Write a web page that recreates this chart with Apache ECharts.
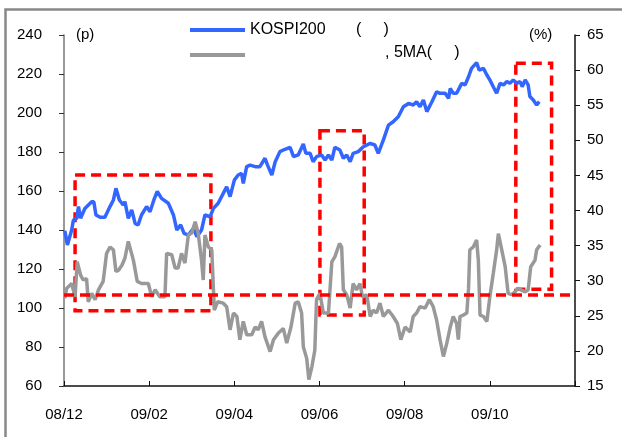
<!doctype html>
<html>
<head>
<meta charset="utf-8">
<script src="https://cdn.jsdelivr.net/npm/echarts@6/dist/echarts.min.js"></script>
<style>
  html, body { margin: 0; padding: 0; background: #fff; }
  #chart { width: 622px; height: 437px; }
</style>
</head>
<body>
<div id="chart"></div>
<script>
// x positions are months counted from 08/12
var xLabels = ['08/12', '09/02', '09/04', '09/06', '09/08', '09/10', '']

var kospiMonths = [0.02,0.08,0.18,0.22,0.30,0.34,0.39,0.49,0.65,0.70,0.75,0.85,0.96,1.08,1.16,1.22,1.30,1.39,1.43,1.51,
	1.59,1.67,1.74,1.82,1.94,2.02,2.11,2.19,2.29,2.45,2.57,2.65,2.74,2.82,2.92,2.96,3.04,3.12,3.23,3.31,
	3.43,3.51,3.62,3.74,3.82,3.90,4.00,4.09,4.17,4.21,4.29,4.37,4.49,4.60,4.72,4.78,4.88,4.96,5.07,5.19,
	5.31,5.39,5.50,5.62,5.68,5.78,5.85,5.93,6.05,6.13,6.21,6.29,6.36,6.48,6.56,6.64,6.72,6.79,6.91,7.03,
	7.19,7.30,7.38,7.50,7.62,7.73,7.85,7.97,8.09,8.20,8.28,8.36,8.44,8.52,8.64,8.75,8.83,8.95,9.03,9.07,
	9.14,9.22,9.34,9.42,9.50,9.57,9.69,9.75,9.85,9.93,10.00,10.08,10.16,10.24,10.32,10.40,10.47,10.55,10.63,10.71,
	10.76,10.83,10.90,10.94,11.02,11.10,11.16]
var kospi = [139.6,132.3,140,145,146,152,146,151,154.5,154.5,147.7,146.5,146.5,152,155.4,161.4,155.4,152.8,154.5,146,
	150.3,143.4,142.6,147.7,152,149.4,155.4,159.8,156.2,153.7,147.7,140,142.6,138.3,137.4,136.6,140.9,136.6,140,147.7,
	146.8,151.1,153.7,158.8,162.2,157.1,165.6,168.2,169,163.9,172.5,173.3,172.5,172.5,176.8,173.3,168.2,175,180.2,181.4,
	182.4,177.6,178.5,184.1,179.3,179.3,175,177.6,178.5,175.9,178.5,175.9,182.4,181,176.8,178.5,175,179.3,180.2,182.7,
	184.4,183.6,179.3,186.2,193.8,195.5,198.1,203.2,204.9,204.1,205.8,203.2,206.7,200.7,205.8,210.9,210.1,210.1,207.5,212.6,
	210.1,210.1,215.2,214.4,218.6,222.9,225.8,222,222.9,219.5,217,213.5,210.1,215.2,214.4,216.1,215.2,217,215.2,216.1,
	213.5,217,214.4,208.4,206.7,204.1,205.8]

var ratioMonths = [0.02,0.06,0.18,0.26,0.31,0.39,0.45,0.53,0.57,0.65,0.73,0.81,0.92,1.00,1.08,1.16,1.22,1.28,1.36,1.43,
	1.51,1.63,1.72,1.82,1.98,2.06,2.14,2.25,2.37,2.41,2.53,2.61,2.68,2.76,2.84,2.92,3.00,3.08,3.15,3.23,
	3.27,3.31,3.39,3.47,3.53,3.61,3.74,3.82,3.90,3.98,4.06,4.13,4.21,4.29,4.41,4.49,4.56,4.64,4.72,4.84,
	4.92,5.03,5.15,5.23,5.33,5.43,5.50,5.58,5.62,5.70,5.75,5.82,5.89,5.93,6.01,6.09,6.21,6.29,6.36,6.47,
	6.52,6.56,6.64,6.72,6.79,6.87,6.95,7.01,7.11,7.19,7.26,7.34,7.42,7.50,7.62,7.73,7.83,7.91,8.01,8.13,
	8.20,8.28,8.36,8.48,8.58,8.67,8.75,8.83,8.91,8.99,9.07,9.14,9.22,9.26,9.30,9.38,9.46,9.50,9.53,9.61,
	9.69,9.73,9.77,9.85,9.93,10.00,10.08,10.16,10.20,10.28,10.36,10.43,10.51,10.59,10.66,10.73,10.83,10.90,10.96,11.06,
	11.10,11.18]
var ratio = [27.5,28.9,29.6,27.7,32.7,30.8,30.1,30.3,27,28.2,27.3,28.7,29.9,33.9,34.8,34.4,31.3,31.5,32.2,33.2,
	35.6,32.9,29.9,29.6,29.6,27.7,28.7,27.7,27.7,33.9,33.7,31.8,31.8,33.9,32.5,36.5,36.8,38.4,36.8,32.9,
	30.1,36.5,34.8,34.4,25.8,27,26.8,26.3,23,25.4,24.9,21.6,24.2,22.3,22.3,23.4,23,24.2,22,19.9,
	21.6,22.5,23.2,21.1,23.4,26.8,27,25.4,20.6,18.9,15.9,17.7,20.1,27.3,28.2,25.4,25.4,32.7,33.4,35.3,
	34.8,28.7,28,26.1,29.6,28.7,29.6,27.7,28,24.9,25.8,25.4,26.8,24.9,25.8,24.9,23.9,21.6,23.4,22.7,
	24.9,25.4,26.3,26.1,27.3,26.3,24.4,21.6,19.2,21.1,23.4,24.9,23.9,21.6,24.9,25.1,25.4,28.9,34.4,34.8,
	35.8,32.9,25.1,24.9,24.2,27.7,31,34.4,36.7,34.4,32,28.2,28,28.4,28.9,28.7,28.4,28.7,32,32.9,
	34.4,35.1]

// dashed boxes: [fromMonth, toMonth, low, high] on the left (p) scale
var boxes = [
	[0.26, 3.45, 98.6, 168.2],
	[6.01, 7.05, 96.4, 190.9],
	[10.61, 11.45, 109.6, 225.5]
]
var redLevel = 28   // (%) on right scale

var font = 'Liberation Sans, Arial, sans-serif'

function pairs(xs, ys) {
	return xs.map(function (x, i) { return [x, ys[i]] })
}

var chart = echarts.init(document.getElementById('chart'))

var option = {
	animation: false,
	textStyle: { fontFamily: font },
	grid: { left: 64, right: 47, top: 35, bottom: 51 },
	legend: [
		{
			left: 185, top: 17, data: ['KOSPI200'],
			icon: 'rect', itemWidth: 55, itemHeight: 4,
			textStyle: { fontFamily: font, fontSize: 16, color: '#000' },
			selectedMode: false
		},
		{
			left: 185, top: 48, data: ['5MA'],
			icon: 'rect', itemWidth: 55, itemHeight: 4,
			formatter: function () { return '' },
			textStyle: { fontFamily: font, fontSize: 16, color: '#000' },
			selectedMode: false
		}
	],
	graphic: [
		{ type: 'rect', left: 3, top: 7, shape: { width: 700, height: 500 },
			style: { fill: 'none', stroke: '#888', lineWidth: 2.5 }, silent: true },
		{ type: 'text', left: 76, top: 27, style: { text: '(p)', font: '15px ' + font, fill: '#000' } },
		{ type: 'text', left: 529, top: 27, style: { text: '(%)', font: '15px ' + font, fill: '#000' } },
		{ type: 'text', left: 356, top: 22, style: { text: '(     )', font: '16px ' + font, fill: '#000' } },
		{ type: 'text', left: 385, top: 45, style: { text: ', 5MA(     )', font: '16px ' + font, fill: '#000' } }
	],
	xAxis: {
		type: 'value', min: 0, max: 12, interval: 2,
		axisLine: { lineStyle: { color: '#111', width: 1.5 } },
		axisTick: { inside: true, length: 5, lineStyle: { color: '#111' } },
		splitLine: { show: false },
		axisLabel: {
			margin: 21, fontSize: 15, color: '#000', fontFamily: font,
			formatter: function (v) { return xLabels[Math.round(v / 2)] }
		}
	},
	yAxis: [
		{
			type: 'value', min: 60, max: 240, interval: 20, position: 'left',
			axisLine: { show: true, lineStyle: { color: '#777', width: 1.5 } },
			axisTick: { show: true, length: 5, lineStyle: { color: '#333' } },
			splitLine: { show: false },
			axisLabel: { margin: 22, fontSize: 15, color: '#000', fontFamily: font }
		},
		{
			type: 'value', min: 15, max: 65, interval: 5, position: 'right',
			axisLine: { show: true, lineStyle: { color: '#111', width: 1.5 } },
			axisTick: { show: true, length: 5, lineStyle: { color: '#111' } },
			splitLine: { show: false },
			axisLabel: { margin: 12, fontSize: 15, color: '#000', fontFamily: font }
		}
	],
	series: [
		{
			name: 'KOSPI200', type: 'line', yAxisIndex: 0,
			data: pairs(kospiMonths, kospi),
			showSymbol: false, symbol: 'none',
			lineStyle: { color: '#3366ff', width: 3.5 },
			itemStyle: { color: '#3366ff' }
		},
		{
			name: '5MA', type: 'line', yAxisIndex: 1,
			data: pairs(ratioMonths, ratio),
			showSymbol: false, symbol: 'none',
			lineStyle: { color: '#999999', width: 3.5 },
			itemStyle: { color: '#999999' }
		},
		{
			name: 'boxes', type: 'line', yAxisIndex: 0, data: [], z: 10,
			markArea: {
				silent: true,
				itemStyle: { color: 'rgba(0,0,0,0)', borderColor: '#ff0000', borderWidth: 3.5, borderType: [10, 6] },
				data: boxes.map(function (b) {
					return [{ coord: [b[0], b[3]] }, { coord: [b[1], b[2]] }]
				})
			}
		},
		{
			name: 'level', type: 'line', yAxisIndex: 1, data: [], z: 10,
			markLine: {
				silent: true, symbol: ['none', 'none'],
				label: { show: false },
				lineStyle: { color: '#ff0000', width: 3.5, type: [10, 6] },
				data: [[{ coord: [0, redLevel] }, { coord: [12, redLevel] }]]
			}
		}
	]
}

chart.setOption(option)
</script>
</body>
</html>
